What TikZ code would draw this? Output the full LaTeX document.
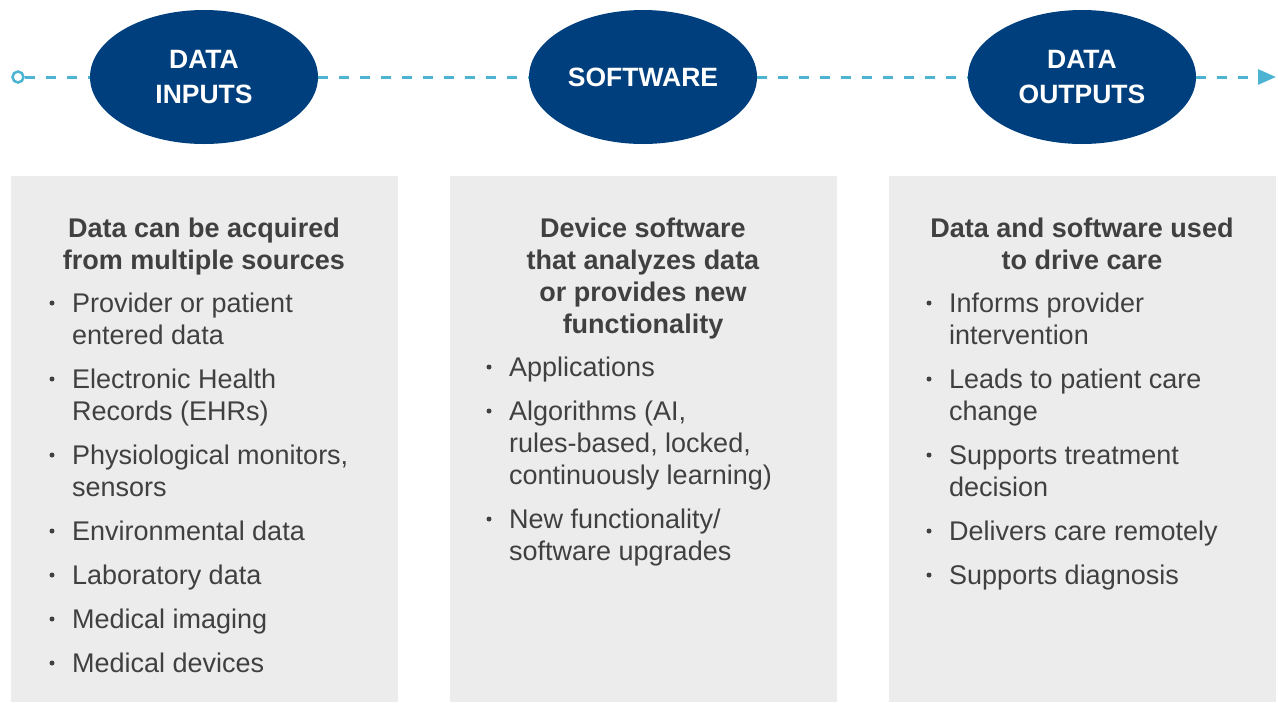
\documentclass[tikz,border=0pt]{standalone}
\usepackage{fontspec}
\setmainfont{Liberation Sans}
\usetikzlibrary{arrows.meta}
\usetikzlibrary{shapes.geometric}
\definecolor{ColNavy}{RGB}{0,63,125}
\definecolor{ColDash}{RGB}{77,179,211}
\definecolor{ColPanel}{RGB}{236,236,236}
\definecolor{ColText}{RGB}{64,64,64}
\tikzstyle{StageNode}=[ellipse,fill=ColNavy,minimum width=228pt,minimum height=134pt,inner sep=0pt,
text=white,align=center,font=\fontsize{26.5}{35}\selectfont\bfseries]
\tikzstyle{PanelNode}=[rectangle,fill=ColPanel,anchor=north west,inner sep=0pt,
minimum width=387pt,minimum height=526pt]
\tikzstyle{HeadText}=[anchor=base,align=center,inner sep=0pt,text=ColText,
font=\fontsize{27}{32}\selectfont\bfseries]
\tikzstyle{ItemText}=[anchor=base west,align=left,inner sep=0pt,text=ColText,
font=\fontsize{27}{32}\selectfont]
\tikzstyle{FlowLine}=[ColDash,line width=3pt,dash pattern=on 10pt off 11pt]
\begin{document}
\begin{tikzpicture}[x=1pt,y=-1pt]
        \useasboundingbox(0,0)rectangle(1278,702);
        % panels
        \node[PanelNode](panelA)at(11,176){};
        \node[PanelNode](panelB)at(450,176){};
        \node[PanelNode](panelC)at(889,176){};
        % flow line and stages
        \node[circle,draw=ColDash,fill=white,line width=2.5pt,minimum size=11pt,inner sep=0pt](flowstart)at(18,77){};
        \coordinate(flowend)at(1276,77);
        \node[StageNode](inputs)at(204,77){DATA\\INPUTS};
        \node[StageNode](software)at(643,77){SOFTWARE};
        \node[StageNode](outputs)at(1082,77){DATA\\OUTPUTS};
        \draw[FlowLine](flowstart)--(inputs);
        \draw[FlowLine](inputs)--(software);
        \draw[FlowLine](software)--(outputs);
        \draw[FlowLine,-{Triangle[length=18pt,width=15pt]}](outputs)--(flowend);
        % headings (placed at the baseline of their last line)
        \node[HeadText](headA)at(204,269){Data can be acquired\\from multiple sources};
        \node[HeadText](headB)at(643,333){Device software\\that analyzes data\\or provides new\\functionality};
        \node[HeadText](headC)at(1082,269){Data and software used\\to drive care};
        % items: first baseline / last baseline / text
        \foreach \yy/\ll/\txt [count=\i] in {312/344/{Provider or patient\\entered data},388/420/{Electronic Health\\Records (EHRs)},
            464/496/{Physiological monitors,\\sensors},540/540/{Environmental data},584/584/{Laboratory data},
            628/628/{Medical imaging},672/672/{Medical devices}}{
            \node[ItemText](itemA\i)at(72,\ll){\txt};
            \fill[ColText](52,\yy-9)circle(2.5pt);
        }
        \foreach \yy/\ll/\txt [count=\i] in {376/376/{Applications},420/484/{Algorithms (AI,\\rules-based, locked,\\continuously learning)},
            528/560/{New functionality/\\software upgrades}}{
            \node[ItemText](itemB\i)at(509,\ll){\txt};
            \fill[ColText](489,\yy-9)circle(2.5pt);
        }
        \foreach \yy/\ll/\txt [count=\i] in {312/344/{Informs provider\\intervention},388/420/{Leads to patient care\\change},
            464/496/{Supports treatment\\decision},540/540/{Delivers care remotely},584/584/{Supports diagnosis}}{
            \node[ItemText](itemC\i)at(949,\ll){\txt};
            \fill[ColText](929,\yy-9)circle(2.5pt);
        }
    \end{tikzpicture}
\end{document}
